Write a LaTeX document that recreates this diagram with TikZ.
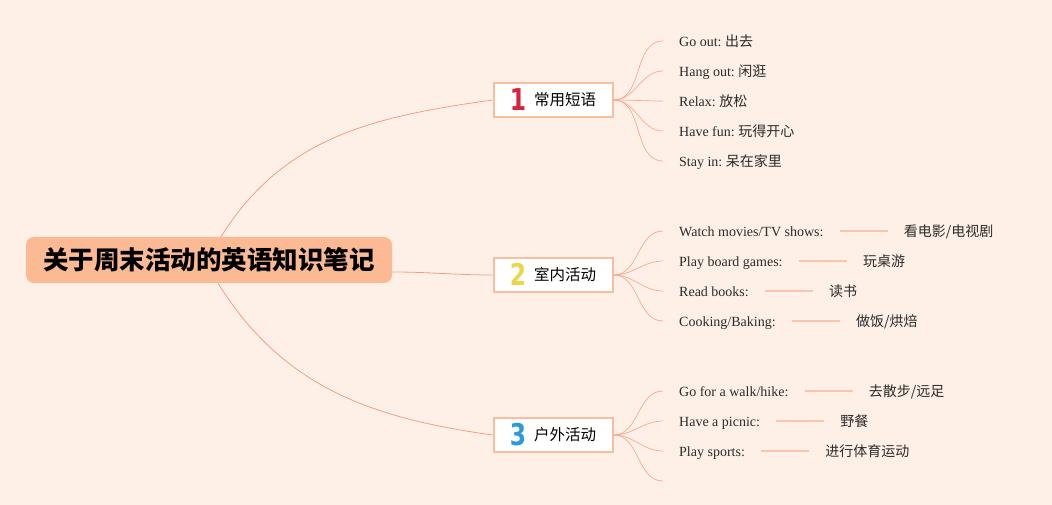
\documentclass[tikz,border=0pt]{standalone}
\usepackage{fontspec}
\setmainfont{Liberation Serif}
\newfontfamily\cjk{Noto Sans CJK SC}
\newfontfamily\numfont{DejaVu Sans}
\usetikzlibrary{positioning}

\definecolor{bgpeach}{HTML}{FEF0E7}
\definecolor{rootfill}{HTML}{FBBA94}
\definecolor{topicline}{HTML}{F9BE9F}
\definecolor{branchline}{HTML}{F29E84}
\definecolor{twigline}{HTML}{F6AB90}
\definecolor{linkline}{HTML}{F9C5AE}
\definecolor{leaftext}{HTML}{2B2B2B}
\definecolor{numred}{HTML}{D9233C}
\definecolor{numyellow}{HTML}{EAD64E}
\definecolor{numblue}{HTML}{2B9AD9}

\newcommand{\topicnum}[2]{\raisebox{-5pt}{\scalebox{0.78}[1]{\numfont\bfseries\fontsize{30}{30}\selectfont\color{#1}#2}}\hspace{8pt}}
\newcommand{\zh}[1]{\hspace{3.5pt}{\cjk #1}}

\begin{document}
\begin{tikzpicture}[
    x=1pt, y=1pt,
    root/.style={rectangle, rounded corners=8pt, fill=rootfill, minimum width=366pt, minimum height=46pt, font=\cjk\bfseries\fontsize{25.5}{28}\selectfont},
    topic/.style={rectangle, draw=topicline, line width=2pt, fill=white, minimum width=119pt, minimum height=34pt, inner sep=0pt, text height=12pt, text depth=1pt, font=\cjk\fontsize{15.5}{18}\selectfont},
    leaf/.style={anchor=west, inner xsep=16pt, inner ysep=0pt, text height=13pt, text depth=2pt, text=leaftext, font=\fontsize{14}{16}\selectfont},
    branch/.style={draw=branchline, line width=0.8pt},
    twig/.style={draw=twigline, line width=0.7pt},
    link/.style={draw=linkline, line width=2pt}
]

% Canvas
\fill[bgpeach] (0,0) rectangle (1052,505);
\useasboundingbox (0,0) rectangle (1052,505);

% Root
\node[root] (root) at (209,245) {关于周末活动的英语知识笔记};

% Topics
\node[topic] (p1) at (553,405) {\topicnum{numred}{1}常用短语};
\node[topic] (p2) at (553,230) {\topicnum{numyellow}{2}室内活动};
\node[topic] (p3) at (553,70) {\topicnum{numblue}{3}户外活动};

% Root to topics
\draw[branch] ([xshift=12pt]root.north) to[out=58, in=188] (p1.west);
\draw[branch] ([yshift=-12pt]root.east) to[out=0, in=180] (p2.west);
\draw[branch] ([xshift=9pt]root.south) to[out=-58, in=172] (p3.west);

% Phrases
\node[leaf] (a1) at (663,464) {Go out:\zh{出去}};
\node[leaf] (a2) at (663,434) {Hang out:\zh{闲逛}};
\node[leaf] (a3) at (663,404) {Relax:\zh{放松}};
\node[leaf] (a4) at (663,374) {Have fun:\zh{玩得开心}};
\node[leaf] (a5) at (663,344) {Stay in:\zh{呆在家里}};

% Indoor
\node[leaf] (b1) at (663,274) {Watch movies/TV shows:};
\node[leaf] (b2) at (663,244) {Play board games:};
\node[leaf] (b3) at (663,214) {Read books:};
\node[leaf] (b4) at (663,184) {Cooking/Baking:};
\node[leaf, right=48pt of b1] (b1cn) {\cjk 看电影/电视剧};
\node[leaf, right=48pt of b2] (b2cn) {\cjk 玩桌游};
\node[leaf, right=48pt of b3] (b3cn) {\cjk 读书};
\node[leaf, right=48pt of b4] (b4cn) {\cjk 做饭/烘焙};

% Outdoor
\node[leaf] (c1) at (663,114) {Go for a walk/hike:};
\node[leaf] (c2) at (663,84) {Have a picnic:};
\node[leaf] (c3) at (663,54) {Play sports:};
\node[leaf] (c4) at (663,24) {};
\node[leaf, right=48pt of c1] (c1cn) {\cjk 去散步/远足};
\node[leaf, right=48pt of c2] (c2cn) {\cjk 野餐};
\node[leaf, right=48pt of c3] (c3cn) {\cjk 进行体育运动};

% Fans
\foreach \n in {a1,a2,a3,a4,a5}
    \draw[twig] (p1.east) to[out=0, in=180] (\n.west);
\foreach \n in {b1,b2,b3,b4}
    \draw[twig] (p2.east) to[out=0, in=180] (\n.west);
\foreach \n in {c1,c2,c3,c4}
    \draw[twig] (p3.east) to[out=0, in=180] (\n.west);

% English to Chinese
\foreach \n in {b1,b2,b3,b4,c1,c2,c3}
    \draw[link] (\n.east) -- (\n cn.west);

\end{tikzpicture}
\end{document}
